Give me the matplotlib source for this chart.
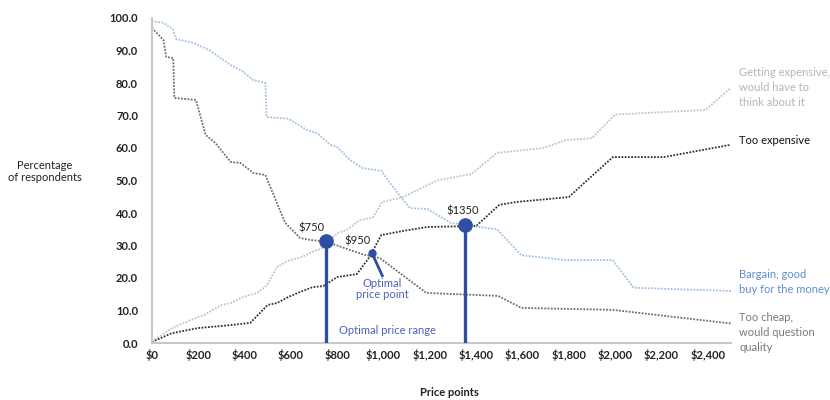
import matplotlib
matplotlib.use("Agg")
import matplotlib.pyplot as plt

plt.rcParams['font.family'] = ['Lato', 'DejaVu Sans']

# Van Westendorp price sensitivity curves (price, % of respondents)
too_cheap_price = [0, 50, 62, 92, 97, 190, 232, 275, 340, 382, 438, 490, 575, 640, 685,
                   750, 910, 985, 1185, 1495, 1595, 1990, 2500]
too_cheap_pct = [97, 93.2, 88, 87.7, 75.4, 74.8, 64, 61.5, 55.7, 55.4, 52.3, 51.7, 37, 32.3, 31.7,
                 31.2, 27.3, 26.1, 15.4, 14.5, 10.8, 10.2, 6]

bargain_price = [0, 50, 90, 105, 180, 250, 340, 390, 435, 490, 495, 590, 670, 715, 770, 800,
                 855, 910, 990, 1020, 1085, 1115, 1190, 1290, 1400, 1490, 1595, 1790, 1990, 2080, 2500]
bargain_pct = [99, 98.5, 96.6, 93.5, 92.3, 90, 85.5, 83.7, 81, 80, 69.5, 69, 65.5, 64.5, 61, 60.3,
               56.3, 53.8, 53, 50, 44, 41.5, 41.2, 37, 35.8, 35, 27, 25.5, 25.5, 17, 16]

getting_exp_price = [0, 95, 200, 225, 300, 340, 395, 455, 497, 540, 595, 650, 690, 740, 800, 842,
                     898, 955, 995, 1085, 1145, 1230, 1380, 1490, 1690, 1790, 1900, 2000, 2390, 2500]
getting_exp_pct = [0.5, 4.9, 8, 8.6, 11.7, 12.3, 14.2, 15.4, 17.8, 23.4, 25.5, 26.5, 28, 29.2, 33.8, 34.8,
                   37.8, 38.7, 43.4, 44.9, 47, 50, 52, 58.5, 60, 62.5, 63, 70.3, 71.7, 78.5]

too_exp_price = [0, 85, 200, 340, 425, 500, 540, 590, 640, 695, 740, 800, 885, 940, 990, 1085,
                 1190, 1400, 1500, 1575, 1800, 1990, 2210, 2500]
too_exp_pct = [0.3, 3, 4.6, 5.5, 6.2, 11.7, 12.3, 14.2, 15.7, 17.2, 17.5, 20.3, 21.2, 26.5, 33.2, 34.5,
               35.7, 36, 42.5, 43.4, 44.9, 57.2, 57.2, 61]

# Key price points
range_low, range_low_pct = 750, 31.3
optimal, optimal_pct = 950, 27.7
range_high, range_high_pct = 1350, 36.2

x_ticks = list(range(0, 2401, 200))
y_ticks = list(range(0, 101, 10))

fig = plt.figure(figsize=(8.3, 4.0), dpi=100)
ax = fig.add_axes([0.183, 0.1425, 0.6976, 0.8125])

dot = (0, (1, 0.8))
ax.plot(getting_exp_price, getting_exp_pct, color='#c3c3c3', lw=1.3, ls=dot)
ax.plot(too_exp_price, too_exp_pct, color='#333333', lw=1.3, ls=dot)
ax.plot(bargain_price, bargain_pct, color='#a3c0e3', lw=1.3, ls=dot)
ax.plot(too_cheap_price, too_cheap_pct, color='#6e6e6e', lw=1.3, ls=dot)

mark = '#2f4ea3'
for px, py in [(range_low, range_low_pct), (range_high, range_high_pct)]:
    ax.plot([px, px], [0, py], color=mark, lw=2.4, solid_capstyle='butt', zorder=4)
    ax.plot(px, py, 'o', color=mark, ms=9.5, zorder=5)
ax.plot(optimal, optimal_pct, 'o', color=mark, ms=5, zorder=5)
ax.plot([optimal, optimal + 45], [optimal_pct, optimal_pct - 7], color=mark, lw=2, zorder=4)

lab_kw = dict(fontsize=8, color='#222222', ha='center', va='bottom')
ax.text(range_low - 60, range_low_pct + 2.3, f'${range_low}', **lab_kw)
ax.text(optimal - 60, optimal_pct + 2.0, f'${optimal}', **lab_kw)
ax.text(range_high - 10, range_high_pct + 2.6, f'${range_high}', **lab_kw)

blue_txt = '#4a63b8'
ax.text(optimal + 45, optimal_pct - 7.6, 'Optimal\nprice point', color=blue_txt, fontsize=8,
        ha='center', va='top', linespacing=1.05)
ax.text(1015, 3.7, 'Optimal price range', color=blue_txt, fontsize=8, ha='center', va='center')

# Series labels at the right end
side_kw = dict(fontsize=8, ha='left', va='center', linespacing=1.45, clip_on=False)
ax.text(2535, 78.5, 'Getting expensive,\nwould have to\nthink about it', color='#b5b5b5', **side_kw)
ax.text(2535, 62.2, 'Too expensive', color='#111111', **side_kw)
ax.text(2535, 18.9, 'Bargain, good\nbuy for the money', color='#5b8fd0', **side_kw)
ax.text(2535, 3.3, 'Too cheap,\nwould question\nquality', color='#7a7a7a', **side_kw)

ax.set_xlim(0, 2500)
ax.set_ylim(0, 100)
ax.set_xticks(x_ticks)
ax.set_xticklabels([f'${v:,}' for v in x_ticks])
ax.set_yticks(y_ticks)
ax.set_yticklabels([f'{v:.1f}' for v in y_ticks])
ax.tick_params(length=0, labelsize=8, labelcolor='#222222')
ax.tick_params(axis='y', pad=10)
ax.tick_params(axis='x', pad=4)
for lbl in ax.get_xticklabels() + ax.get_yticklabels():
    lbl.set_fontweight('bold')

for s in ['top', 'right']:
    ax.spines[s].set_visible(False)
for s in ['left', 'bottom']:
    ax.spines[s].set_color('#c8c8c8')
    ax.spines[s].set_linewidth(1.5)

fig.text(0.054, 0.572, 'Percentage\nof respondents', fontsize=8, ha='center', va='center',
         color='#222222', linespacing=1.15)
fig.text(0.542, 0.018, 'Price points', fontsize=8, fontweight='bold', ha='center',
         va='center', color='#222222')

fig.savefig('out.png', dpi=100)
